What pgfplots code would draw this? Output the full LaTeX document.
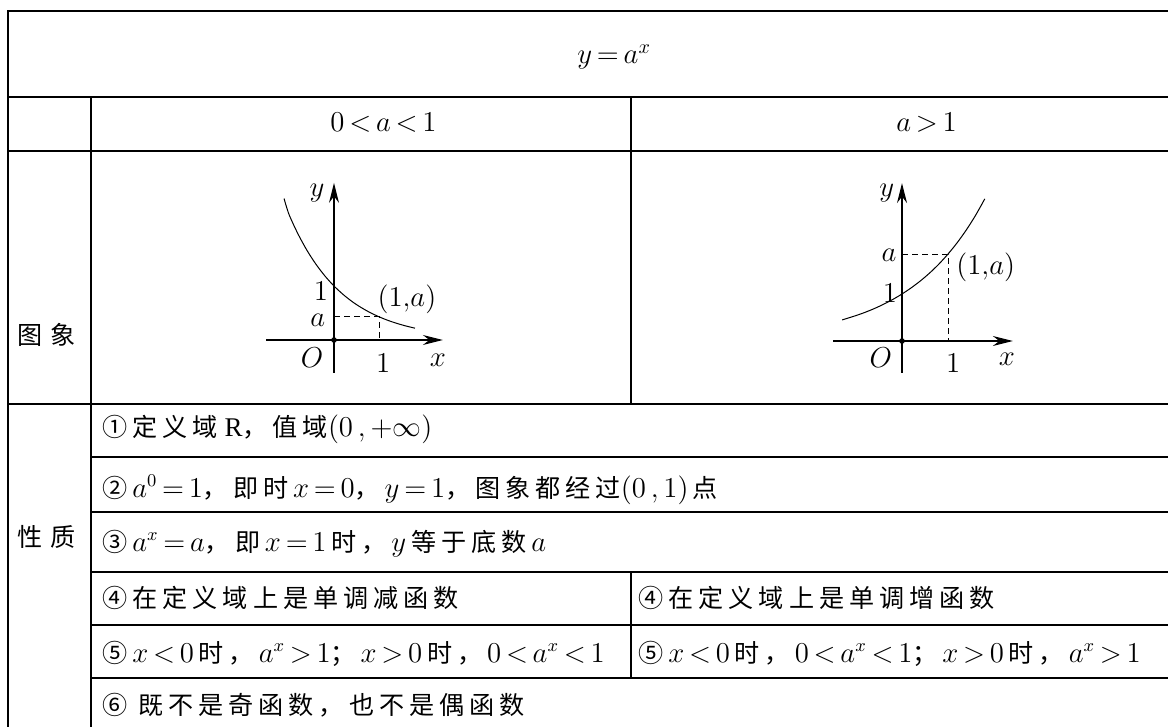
\documentclass[border=0pt]{standalone}
\usepackage{fontspec}
\setmainfont{Liberation Serif}
\newfontfamily\cjk[Scale=0.93,LetterSpace=20]{Noto Sans CJK SC}
\usepackage{pgfplots}
\pgfplotsset{compat=1.18}
\usetikzlibrary{arrows.meta}
\thickmuskip=3mu plus 1mu
\medmuskip=3mu plus 1mu

% shared look of the two small sketches
\pgfplotsset{
  sketch/.style={
    axis lines=middle,
    xtick=\empty, ytick=\empty,
    clip=false,
    anchor=origin,
    every inner x axis line/.append style={line width=0.7pt,-{Stealth[length=10pt,width=5pt]}},
    every inner y axis line/.append style={line width=0.7pt,-{Stealth[length=10pt,width=5pt]}},
    every node/.style={font=\fontsize{12.5}{14}\selectfont},
  },
}

\begin{document}
\begin{tikzpicture}[font=\fontsize{13.5}{15}\selectfont]
\begin{scope}[x=0.5pt,y=-0.5pt]
\useasboundingbox (0,0) rectangle (1168,727);
% table rules
\draw[line width=1pt] (8,727) -- (8,11) -- (1168,11);
\draw[line width=1pt] (8,97) -- (1168,97);
\draw[line width=1pt] (8,151) -- (1168,151);
\draw[line width=1pt] (8,404) -- (1168,404);
\foreach \yy in {457,512,572,625,678}
  \draw[line width=1pt] (91,\yy) -- (1168,\yy);
\draw[line width=1pt] (91,97) -- (91,727);
\draw[line width=1pt] (631,97) -- (631,404);
\draw[line width=1pt] (631,572) -- (631,678);
% headers
\node[anchor=base west,inner sep=0,font=\fontsize{14}{16}\selectfont] at (577,64) {$y=a^x$};
\node[anchor=base west,inner sep=0,font=\fontsize{14}{16}\selectfont] at (330,132) {$0<a<1$};
\node[anchor=base west,inner sep=0,font=\fontsize{14}{16}\selectfont] at (896,132) {$a>1$};
\node[inner sep=0] at (47,335) {{\cjk 图}\hspace{4pt}{\cjk 象}};
\node[inner sep=0] at (47,537) {{\cjk 性}\hspace{4pt}{\cjk 质}};
% properties
\node[anchor=base west,inner sep=0] at (102,437) {{\cjk ①定义域}\ R{\cjk ，值域}$(0\,,+\infty)$};
\node[anchor=base west,inner sep=0] at (102,497) {{\cjk ②}$\,a^0=1${\cjk ，即时}$\,x=0${\cjk ，}$\;y=1${\cjk ，图象都经过}$(0\,,1)$\,{\cjk 点}};
\node[anchor=base west,inner sep=0] at (102,551) {{\cjk ③}$\,a^x=a${\cjk ，即}$\,x=1\,${\cjk 时，}$\;y\,${\cjk 等于底数}$\,a$};
\node[anchor=base west,inner sep=0] at (102,607) {\cjk ④在定义域上是单调减函数};
\node[anchor=base west,inner sep=0] at (638,607) {\cjk ④在定义域上是单调增函数};
\node[anchor=base west,inner sep=0] at (102,662) {{\cjk ⑤}$\,x<0\,${\cjk 时，}$\;a^x>1${\cjk ；}$\;x>0\,${\cjk 时，}$\;0<a^x<1$};
\node[anchor=base west,inner sep=0] at (638,662) {{\cjk ⑤}$\,x<0\,${\cjk 时，}$\;0<a^x<1${\cjk ；}$\;x>0\,${\cjk 时，}$\;a^x>1$};
\node[anchor=base west,inner sep=0] at (102,714) {\cjk ⑥\ 既不是奇函数，也不是偶函数};
\end{scope}

% 0 < a < 1
\begin{axis}[sketch, at={(167pt,-170pt)}, x=22.5pt, y=27pt,
  xmin=-1.51, xmax=2.42, ymin=-0.61, ymax=2.91]
\addplot[smooth, line width=0.5pt] coordinates {
(-1.11,2.62) (-1.0,2.326) (-0.8,1.964) (-0.6,1.659) (-0.4,1.402) (-0.2,1.184)
(0,1) (0.2,0.845) (0.4,0.713) (0.6,0.603) (0.8,0.509) (1.0,0.43)
(1.2,0.363) (1.4,0.307) (1.6,0.259) (1.8,0.219)};
\addplot[dashed, dash pattern=on 3pt off 2pt, line width=0.5pt] coordinates {(0,0.43) (1,0.43) (1,0)};
\addplot[mark=*, mark size=1.2pt, only marks] coordinates {(0,0)};
\node at (axis cs:-0.38,2.72) {$y$};
\node at (axis cs:-0.29,0.9) {$1$};
\node at (axis cs:-0.36,0.36) {$a$};
\node at (axis cs:-0.49,-0.33) {$O$};
\node at (axis cs:1.09,-0.43) {$1$};
\node at (axis cs:2.31,-0.37) {$x$};
\node at (axis cs:1.62,0.76) {$(1{,}a)$};
\end{axis}

% a > 1
\begin{axis}[sketch, at={(451pt,-170.5pt)}, x=23pt, y=23.5pt,
  xmin=-1.5, xmax=2.41, ymin=-0.68, ymax=3.36]
\addplot[smooth, line width=0.5pt] coordinates {
(-1.3,0.449) (-1.0,0.541) (-0.8,0.611) (-0.6,0.691) (-0.4,0.782) (-0.2,0.884)
(0,1) (0.2,1.131) (0.4,1.279) (0.6,1.446) (0.8,1.635) (1.0,1.85)
(1.2,2.092) (1.4,2.366) (1.6,2.675) (1.8,3.025)};
\addplot[dashed, dash pattern=on 3pt off 2pt, line width=0.5pt] coordinates {(0,1.85) (1,1.85) (1,0)};
\addplot[mark=*, mark size=1.2pt, only marks] coordinates {(0,0)};
\node at (axis cs:-0.33,3.15) {$y$};
\node at (axis cs:-0.28,1.82) {$a$};
\node at (axis cs:-0.26,1.02) {$1$};
\node at (axis cs:-0.46,-0.36) {$O$};
\node at (axis cs:1.11,-0.47) {$1$};
\node at (axis cs:2.28,-0.40) {$x$};
\node at (axis cs:1.82,1.57) {$(1{,}a)$};
\end{axis}
\end{tikzpicture}
\end{document}
